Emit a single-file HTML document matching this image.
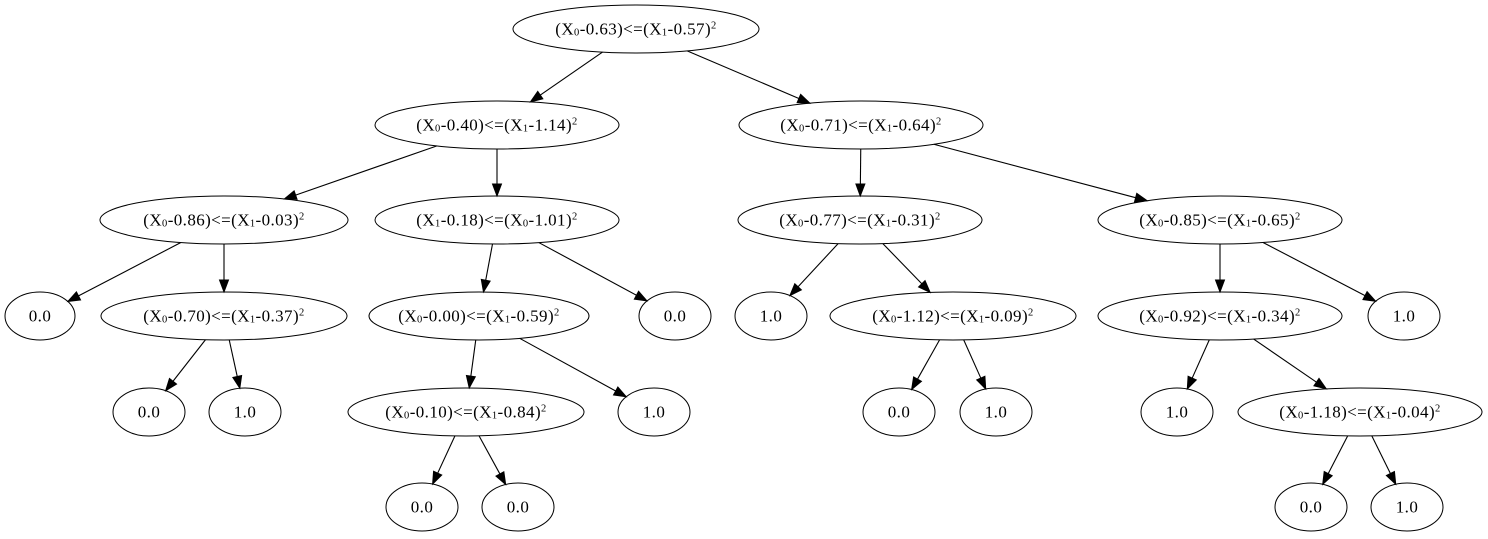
<!DOCTYPE html>
<html><head><meta charset="utf-8"><style>
html,body{margin:0;padding:0;background:#fff;}
svg{display:block;}
text{font-family:"Liberation Serif",serif;font-size:17px;letter-spacing:0.4px;fill:#000;}
</style></head><body>
<svg id="s" width="1488" height="539" viewBox="0 0 1488 539" xmlns="http://www.w3.org/2000/svg"></svg>
<script>
const Y=[29,125,220,316,412,507];
const N={
r:[636,0,123,"(X0-0.63)<=(X1-0.57)"],
a:[497,1,122,"(X0-0.40)<=(X1-1.14)"],
b:[861,1,122,"(X0-0.71)<=(X1-0.64)"],
c:[224,2,124,"(X0-0.86)<=(X1-0.03)"],
d:[497,2,122,"(X1-0.18)<=(X0-1.01)"],
e:[860,2,122,"(X0-0.77)<=(X1-0.31)"],
f:[1220,2,122,"(X0-0.85)<=(X1-0.65)"],
g:[40,3,35,"0.0"],
h:[224,3,123,"(X0-0.70)<=(X1-0.37)"],
i:[479,3,110,"(X0-0.00)<=(X1-0.59)"],
j:[675,3,36,"0.0"],
k:[771,3,36,"1.0"],
l:[953,3,123,"(X0-1.12)<=(X1-0.09)"],
m:[1220,3,122,"(X0-0.92)<=(X1-0.34)"],
n:[1404,3,36,"1.0"],
o1:[149,4,36,"0.0"],o2:[245,4,36,"1.0"],
o:[466,4,118,"(X0-0.10)<=(X1-0.84)"],
p1:[654,4,36,"1.0"],
q1:[899,4,36,"0.0"],q2:[996,4,36,"1.0"],
t1:[1177,4,36,"1.0"],
p:[1360,4,122,"(X0-1.18)<=(X1-0.04)"],
u1:[422,5,36,"0.0"],u2:[518,5,36,"0.0"],
v1:[1311,5,36,"0.0"],v2:[1407,5,36,"1.0"]
};
const E=[["r","a"],["r","b"],["a","c"],["a","d"],["b","e"],["b","f"],["c","g"],["c","h"],["d","i"],["d","j"],["e","k"],["e","l"],["f","m"],["f","n"],["h","o1"],["h","o2"],["i","o"],["i","p1"],["l","q1"],["l","q2"],["m","t1"],["m","p"],["o","u1"],["o","u2"],["p","v1"],["p","v2"]];
const RY=24;
let s="";
function lab(t){
  if(t.length<5) return t;
  return t.replace(/X([01])/g,'X<tspan font-size="10.5" dy="1">$1</tspan><tspan dy="-1">\u200b</tspan>')+'<tspan font-size="10.5" dy="-6">2</tspan>';
}
for(const k in N){const [x,r,rx,t]=N[k];const y=Y[r];
 s+=`<ellipse cx="${x}" cy="${y}" rx="${rx}" ry="${RY}" fill="none" stroke="#000" stroke-width="1"/>`;
 s+=`<text x="${x}" y="${y+5.5}" text-anchor="middle">${lab(t)}</text>`;}
function clip(rx,dx,dy){return 1/Math.sqrt((dx/rx)**2+(dy/RY)**2);}
for(const [a,b] of E){const A=N[a],B=N[b];
 const x1=A[0],y1=Y[A[1]],x2=B[0],y2=Y[B[1]];const dx=x2-x1,dy=y2-y1;
 const t1=clip(A[2],dx,dy),t2=clip(B[2],dx,dy);
 const sx=x1+dx*t1,sy=y1+dy*t1,ex=x2-dx*t2,ey=y2-dy*t2;
 const L=Math.hypot(ex-sx,ey-sy),ux=(ex-sx)/L,uy=(ey-sy)/L;
 const bx=ex-ux*12,by=ey-uy*12,px=-uy*4.5,py=ux*4.5;
 s+=`<line x1="${sx}" y1="${sy}" x2="${bx}" y2="${by}" stroke="#000" stroke-width="1.1"/>`;
 s+=`<polygon points="${ex},${ey} ${bx+px},${by+py} ${bx-px},${by-py}" fill="#000" stroke="#000"/>`;}
document.getElementById("s").innerHTML=s;
</script>
</body></html>
